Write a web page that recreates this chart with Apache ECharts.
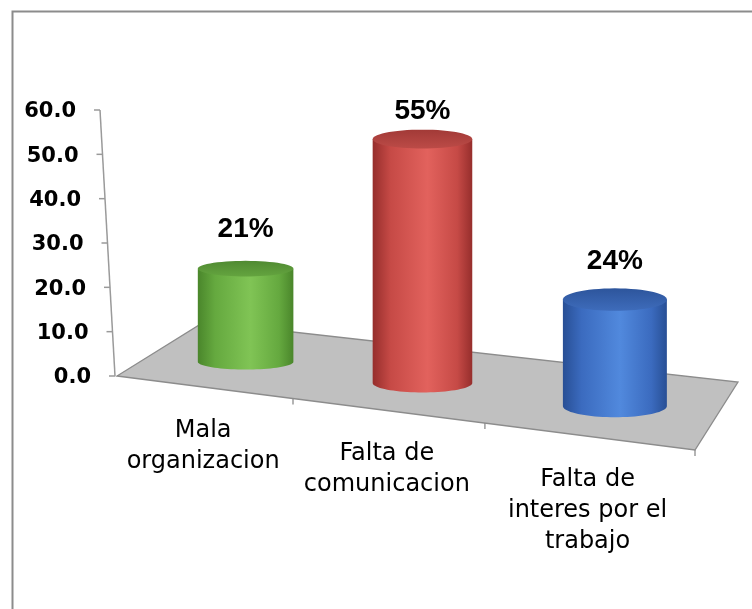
<!DOCTYPE html>
<html><head><meta charset="utf-8">
<script src="https://cdn.jsdelivr.net/npm/echarts@6/dist/echarts.min.js"></script>
<style>html,body{margin:0;padding:0;background:#fff}#c{width:752px;height:609px}</style>
</head><body><div id="c"></div>
<script>
// ---- data ----
const categories = ['Mala\norganizacion', 'Falta de\ncomunicacion', 'Falta de\ninteres por el\ntrabajo'];
const values = [21, 55, 24];
const valueLabels = ['21%', '55%', '24%'];
const yTicks = [0, 10, 20, 30, 40, 50, 60];

// ---- styles ----
const palettes = [
  {edge:'#4a862b', mid:'#65a93f', hi:'#80c455', top0:'#508a32', top1:'#64a43f'},
  {edge:'#962e2c', mid:'#c64a46', hi:'#e2625d', top0:'#a23a37', top1:'#bc4b47'},
  {edge:'#284f95', mid:'#3b6bbf', hi:'#5189dd', top0:'#2d559c', top1:'#3e6cbb'}
];

function quad(cs, y0) {
  const xl = cs.x, xr = cs.x + cs.width;
  return [[xl, y0], [xr, y0 + 74], [xr + 43, y0 + 6], [xl + 87, y0 - 54]];
}
function homog(q) {
  const [x0,y0]=q[0],[x1,y1]=q[1],[x2,y2]=q[2],[x3,y3]=q[3];
  const dx1=x1-x2, dx2=x3-x2, dx3=x0-x1+x2-x3;
  const dy1=y1-y2, dy2=y3-y2, dy3=y0-y1+y2-y3;
  const den=dx1*dy2-dx2*dy1;
  const g=(dx3*dy2-dx2*dy3)/den, h=(dx1*dy3-dx3*dy1)/den;
  const a=x1-x0+g*x1, b=x3-x0+h*x3, c=x0;
  const d=y1-y0+g*y1, e=y3-y0+h*y3, f=y0;
  return (u,v)=>{const w=g*u+h*v+1; return [(a*u+b*v+c)/w,(d*u+e*v+f)/w,w];};
}
function ellipsePts(cx, cy, rx, ry, a0, a1, n) {
  const pts = [];
  for (let k = 0; k <= n; k++) {
    const t = a0 + (a1 - a0) * k / n;
    pts.push([cx + rx * Math.cos(t), cy + ry * Math.sin(t)]);
  }
  return pts;
}

const yMin = yTicks[0], yMax = yTicks[yTicks.length - 1];

function renderFloor(params, api) {
  const cs = params.coordSys;
  const y0 = api.coord([0, yMin])[1];
  const q = quad(cs, y0);
  const P = homog(q);
  const children = [];
  children.push({type:'polygon', shape:{points:q},
    style:{fill:'#c0c0c0', stroke:'#8c8c8c', lineWidth:1.3}});
  const axX = v => cs.x - 2 - 15 * (v - yMin) / (yMax - yMin);
  const yTop = api.coord([0, yMax])[1];
  children.push({type:'line', shape:{x1:axX(yMin), y1:y0, x2:axX(yMax), y2:yTop},
    style:{stroke:'#9a9a9a', lineWidth:1.5}});
  yTicks.forEach(t => {
    const yy = api.coord([0, t])[1];
    const xx = axX(t);
    children.push({type:'line', shape:{x1:xx-6, y1:yy, x2:xx, y2:yy},
      style:{stroke:'#9a9a9a', lineWidth:1.5}});
    children.push({type:'text', style:{text:t.toFixed(1), x:xx-24, y:yy+2,
      font:'bold 21px "DejaVu Sans"', fill:'#000', align:'right', verticalAlign:'middle'}});
  });
  const n = categories.length;
  for (let k = 1; k <= n; k++) {
    const p = P(k / n, 0);
    children.push({type:'line', shape:{x1:p[0], y1:p[1], x2:p[0], y2:p[1]+6},
      style:{stroke:'#8c8c8c', lineWidth:1.3}});
  }
  return {type:'group', children};
}

function renderCyl(params, api) {
  const cs = params.coordSys;
  const idx = api.value(0), val = api.value(1);
  const base = api.coord([idx, yMin]);
  const topC = api.coord([idx, val]);
  const h = base[1] - topC[1];
  const q = quad(cs, base[1]);
  const P = homog(q);
  const u = (base[0] - cs.x) / cs.width;
  const c = P(u, 0.5);
  const s = 1 / c[2];
  const rx = 49 * s, ry = rx * (0.15 + 0.08 * u);
  const cx = c[0], by = c[1] + 4, ty = by - h;
  const pal = palettes[idx % palettes.length];
  const bodyFill = new echarts.graphic.LinearGradient(0, 0, 1, 0, [
    {offset:0, color:pal.edge}, {offset:0.18, color:pal.mid}, {offset:0.55, color:pal.hi},
    {offset:0.85, color:pal.mid}, {offset:1, color:pal.edge}]);
  const lowerHalf = ellipsePts(cx, by, rx, ry, Math.PI, 0, 40);
  const bodyPts = [[cx - rx, ty]].concat(lowerHalf).concat([[cx + rx, ty]]);
  const topPts = ellipsePts(cx, ty, rx, ry, 0, 2 * Math.PI, 60);
  const topFill = new echarts.graphic.LinearGradient(0, 0, 0, 1, [
    {offset:0, color:pal.top0}, {offset:1, color:pal.top1}]);
  const front = P(u, 0);
  const labelGap = 47 - 0.077 * h;
  return {type:'group', children:[
    {type:'polygon', shape:{points:bodyPts}, style:{fill:bodyFill}},
    {type:'polygon', shape:{points:topPts}, style:{fill:topFill}},
    {type:'text', style:{text:valueLabels[idx], x:cx, y:ty - labelGap,
      font:'bold 28px "Liberation Sans"', fill:'#000', align:'center', verticalAlign:'middle'}},
    {type:'text', style:{text:categories[idx], x:front[0], y:front[1] + 28,
      font:'24px "DejaVu Sans"', lineHeight:31, fill:'#000', align:'center', verticalAlign:'top'}}
  ]};
}

const chart = echarts.init(document.getElementById('c'), null, {renderer:'canvas'});
chart.setOption({
  animation:false,
  backgroundColor:'#fff',
  graphic:[{type:'rect', left:10, top:9, shape:{x:0, y:0, width:760, height:620},
    style:{fill:'none', stroke:'#8c8c8c', lineWidth:2}, silent:true}],
  grid:{left:117, right:57, top:110, bottom:233},
  xAxis:{type:'category', data:categories, show:false},
  yAxis:{type:'value', min:yMin, max:yMax, interval:10, show:false},
  series:[
    {type:'custom', renderItem:renderFloor, data:[[0, 0]], z:1, silent:true},
    {type:'custom', renderItem:renderCyl, data:values.map((v, i) => [i, v]), z:2, silent:true}
  ]
});
</script>
</body></html>
